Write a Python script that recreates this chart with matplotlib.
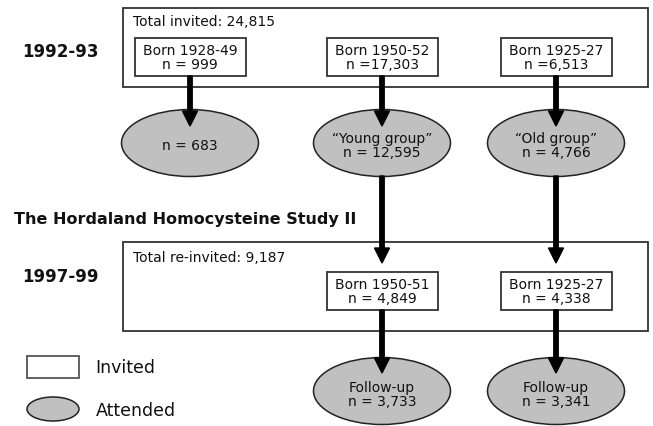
"""
Flow chart of the Hordaland Homocysteine Study (1992-93 and 1997-99 waves).
"""
import matplotlib
matplotlib.use("Agg")
import matplotlib.pyplot as plt
from matplotlib.patches import Rectangle, Ellipse

# ─── Data ─────────────────────────────────────────────────────────────────────
wave_years       = ["1992-93", "1997-99"]
study_title      = "The Hordaland Homocysteine Study II"
total_invited    = "Total invited: 24,815"
total_reinvited  = "Total re-invited: 9,187"

wave1_cohorts    = ["Born 1928-49", "Born 1950-52", "Born 1925-27"]
wave1_invited    = ["n = 999", "n =17,303", "n =6,513"]
wave1_attended   = ["n = 683", "\u201cYoung group\u201d\nn = 12,595", "\u201cOld group\u201d\nn = 4,766"]

wave2_cohorts    = ["Born 1950-51", "Born 1925-27"]
wave2_invited    = ["n = 4,849", "n = 4,338"]
wave2_attended   = ["Follow-up\nn = 3,733", "Follow-up\nn = 3,341"]

legend_labels    = ["Invited", "Attended"]

# ─── Layout (pixel units, y grows downward) ──────────────────────────────────
W, H       = 653, 427
COL1       = [190, 382, 556]
COL2       = [382, 556]
BOX_W, BOX_H = 111, 38
ELL_W, ELL_H = 137, 67
EDGE       = "#333333"
FILL       = "#c0c0c0"
TXT        = "#111111"

fig = plt.figure(figsize=(W / 100, H / 100), dpi=100)
ax = fig.add_axes([0, 0, 1, 1])
ax.set_xlim(0, W)
ax.set_ylim(H, 0)
ax.axis("off")


def box(cx, cy, w, h, lw=1.3):
    ax.add_patch(Rectangle((cx - w / 2, cy - h / 2), w, h, facecolor="white",
                           edgecolor=EDGE, lw=lw, zorder=2))


def ellipse(cx, cy, w, h):
    ax.add_patch(Ellipse((cx, cy), w, h, facecolor=FILL, edgecolor="#222222",
                         lw=1.1, zorder=2))


def arrow(x, y0, y1):
    ax.arrow(x, y0, 0, y1 - y0, width=4.4, head_width=15, head_length=15,
             length_includes_head=True, color="black", zorder=4)


# ── Wave 1 ───────────────────────────────────────────────────────────────────
ax.add_patch(Rectangle((123, 9), 525, 79, facecolor="white", edgecolor=EDGE,
                       lw=1.3, zorder=1))
ax.text(133, 22, total_invited, fontsize=10, color=TXT, va="center", zorder=3)
ax.text(22, 52, wave_years[0], fontsize=12, fontweight="bold", color=TXT,
        va="center", zorder=3)

for cx, coh, inv, att in zip(COL1, wave1_cohorts, wave1_invited, wave1_attended):
    box(cx, 58, BOX_W, BOX_H)
    ax.text(cx, 58, coh + "\n" + inv, fontsize=10, color=TXT, ha="center",
            va="center", linespacing=1.05, zorder=3)
    ellipse(cx, 144, ELL_W, ELL_H)
    ax.text(cx, 146, att, fontsize=10, color=TXT, ha="center", va="center",
            linespacing=1.05, zorder=3)
    arrow(cx, 77, 127)

# ── Wave 2 ───────────────────────────────────────────────────────────────────
ax.text(14, 220, study_title, fontsize=11.5, fontweight="bold", color=TXT,
        va="center", zorder=3)
ax.add_patch(Rectangle((123, 243), 525, 89, facecolor="white", edgecolor=EDGE,
                       lw=1.3, zorder=1))
ax.text(133, 258, total_reinvited, fontsize=10, color=TXT, va="center", zorder=3)
ax.text(22, 277, wave_years[1], fontsize=12, fontweight="bold", color=TXT,
        va="center", zorder=3)

for cx, coh, inv, att in zip(COL2, wave2_cohorts, wave2_invited, wave2_attended):
    arrow(cx, 177, 264)
    box(cx, 292, BOX_W, BOX_H)
    ax.text(cx, 292, coh + "\n" + inv, fontsize=10, color=TXT, ha="center",
            va="center", linespacing=1.05, zorder=3)
    ellipse(cx, 392, ELL_W, ELL_H)
    ax.text(cx, 395, att, fontsize=10, color=TXT, ha="center", va="center",
            linespacing=1.05, zorder=3)
    arrow(cx, 311, 374)

# ── Legend ───────────────────────────────────────────────────────────────────
ax.add_patch(Rectangle((27, 357), 52, 22, facecolor="white", edgecolor="#555555",
                       lw=1.3, zorder=2))
ax.text(95, 368, legend_labels[0], fontsize=12.5, color=TXT, va="center")
ax.add_patch(Ellipse((53, 410), 52, 24, facecolor=FILL, edgecolor="#222222",
                     lw=1.1, zorder=2))
ax.text(96, 411, legend_labels[1], fontsize=12.5, color=TXT, va="center")

fig.savefig("out.png", dpi=100)
plt.close(fig)
